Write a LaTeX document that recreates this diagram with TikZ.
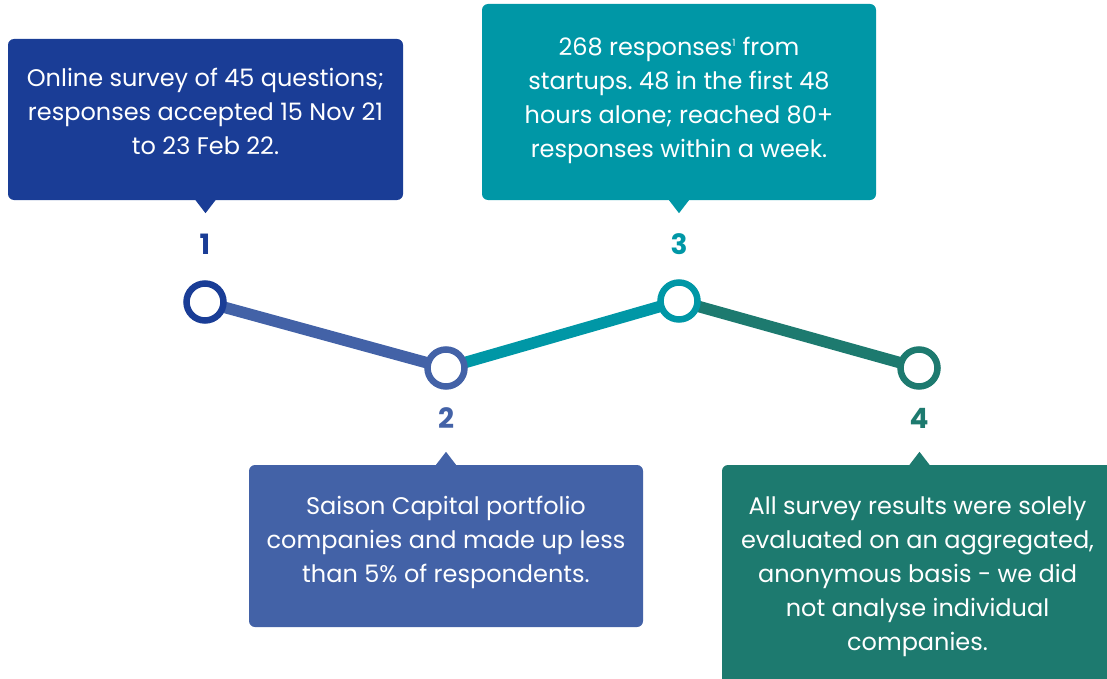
\documentclass[tikz,border=0pt]{standalone}
\usepackage{fontspec}
\setmainfont{Poppins}
\usetikzlibrary{backgrounds}
\definecolor{navy}{HTML}{1A3D96}
\definecolor{slateblue}{HTML}{4362A7}
\definecolor{teal}{HTML}{0097A6}
\definecolor{pine}{HTML}{1D7A6F}
\frenchspacing
\tikzset{
  x=1pt, y=-1pt,
  callout/.style={rounded corners=6pt, inner sep=0pt},
  blurb/.style={text=white, align=center, inner sep=0pt,
    font=\fontsize{24}{34}\selectfont},
  dot/.style={circle, draw=#1, fill=white, line width=6.5pt,
    minimum size=37pt, inner sep=0pt},
  link/.style={draw=#1, line width=11.5pt},
  stepnum/.style={text=#1, font=\fontsize{28}{28}\selectfont\bfseries},
}
\begin{document}
\begin{tikzpicture}
\useasboundingbox (0,0) rectangle (1107,679);
\clip (0,0) rectangle (1107,679);

% callout boxes with their pointers
\node[callout, fill=navy, minimum width=395pt, minimum height=161pt] (b1) at (205.5,119.5) {};
\node[callout, fill=teal, minimum width=394pt, minimum height=196pt] (b3) at (679,102) {};
\node[callout, fill=slateblue, minimum width=394pt, minimum height=162pt] (b2) at (446,546) {};
\node[callout, fill=pine, minimum width=395pt, minimum height=220pt] (b4) at (919.5,575) {};

\fill[navy] ([xshift=-10pt]b1.south) -- ++(10,13) -- ([xshift=10pt]b1.south) -- cycle;
\fill[teal] ([xshift=-10pt]b3.south) -- ++(10,13) -- ([xshift=10pt]b3.south) -- cycle;
\fill[slateblue] ([xshift=-10pt]b2.north) -- ++(10,-13) -- ([xshift=10pt]b2.north) -- cycle;
\fill[pine] ([xshift=-10pt]b4.north) -- ++(10,-13) -- ([xshift=10pt]b4.north) -- cycle;

% callout texts
\node[blurb] (t1) at (205.5,111.5) {Online survey of 45 questions;\\ responses accepted 15 Nov 21\\ to 23 Feb 22.};
\node[blurb] (t3) at (679,100.5) {268 responses\textsuperscript{\fontsize{10}{10}\selectfont 1} from\\ startups. 48 in the first 48\\ hours alone; reached 80+\\ responses within a week.};
\node[blurb] (t2) at (446,542) {Saison Capital portfolio\\ companies and made up less\\ than 5\% of respondents.};
\node[blurb] (t4) at (917.5,576.5) {All survey results were solely\\ evaluated on an aggregated,\\ anonymous basis - we did\\ not analyse individual\\ companies.};

% step markers
\node[dot=navy] (c1) at (205,302) {};
\node[dot=slateblue] (c2) at (446,368) {};
\node[dot=teal] (c3) at (679,301) {};
\node[dot=pine] (c4) at (919,368) {};

\begin{scope}[on background layer]
\draw[link=slateblue] (c1.center) -- (c2.center);
\draw[link=teal] (c2.center) -- (c3.center);
\draw[link=pine] (c3.center) -- (c4.center);
\end{scope}

% step numbers
\node[stepnum=navy] (n1) at (205,244) {1};
\node[stepnum=slateblue] (n2) at (446,418) {2};
\node[stepnum=teal] (n3) at (679,244) {3};
\node[stepnum=pine] (n4) at (919,418) {4};
\end{tikzpicture}
\end{document}
